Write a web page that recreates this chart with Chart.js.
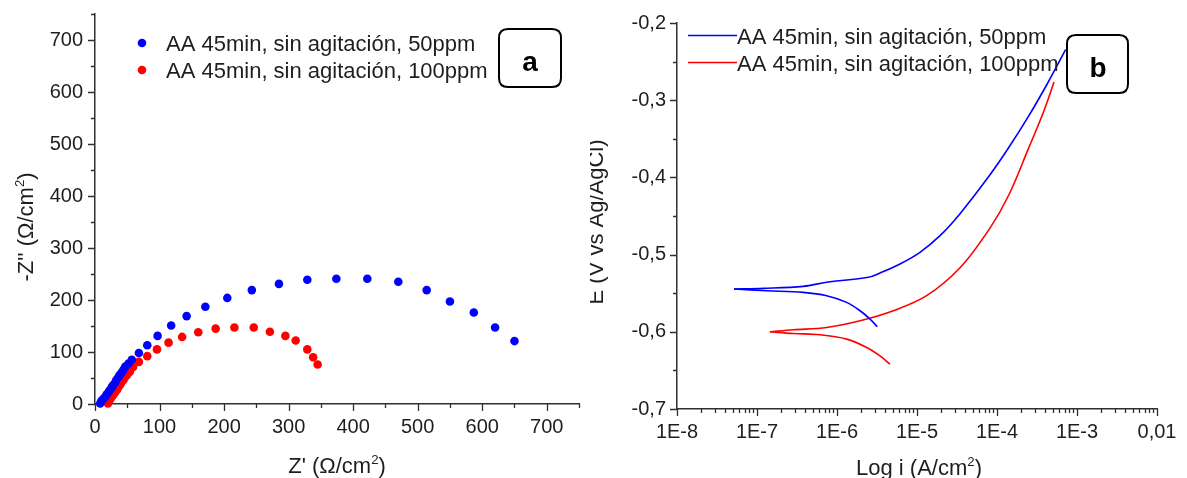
<!DOCTYPE html>
<html><head><meta charset="utf-8">
<script src="https://cdn.jsdelivr.net/npm/chart.js@4.4.1/dist/chart.umd.min.js"></script>
<style>
html,body{margin:0;padding:0;background:#fff;width:1187px;height:478px;overflow:hidden}
#ca{position:absolute;left:0;top:0}
#cb{position:absolute;left:590px;top:0}
</style></head><body>
<canvas id="ca" width="590" height="478"></canvas>
<canvas id="cb" width="597" height="478"></canvas>
<script>
// ---------- data ----------
const seriesLabels = ['AA 45min, sin agitación, 50ppm', 'AA 45min, sin agitación, 100ppm'];
// Panel a : Nyquist (Z', -Z'') in ohm/cm2
const nyqTicks = [0, 100, 200, 300, 400, 500, 600, 700];
const nyq50Re = [8, 10, 13, 16, 18, 21, 23, 26, 28, 31, 33, 36, 38, 41, 44, 47, 52, 57, 68, 81, 97, 118, 142, 171, 205, 243, 285, 329, 374, 422, 470, 514, 550, 587, 620, 650];
const nyq50Im = [1, 6, 10, 14, 18, 23, 27, 32, 36, 41, 46, 51, 55, 60, 66, 72, 78, 85, 98, 113, 131, 151, 169, 187, 204, 219, 231, 239, 241, 241, 235, 219, 197, 176, 147, 121];
const nyq100Re = [20, 23, 25, 28, 31, 34, 36, 39, 41, 44, 46, 49, 51, 54, 59, 68, 81, 96, 114, 135, 160, 187, 216, 246, 271, 295, 311, 329, 338, 345];
const nyq100Im = [1, 8, 12, 17, 22, 27, 32, 37, 42, 46, 51, 55, 59, 62, 71, 81, 92, 105, 118, 129, 138, 145, 147, 147, 139, 131, 122, 105, 90, 76];
// Panel b : polarisation curves, i (A/cm2) and E (V vs Ag/AgCl)
const eTicks = [-0.7, -0.6, -0.5, -0.4, -0.3, -0.2];
const iTicks = [1e-8, 1e-7, 1e-6, 1e-5, 1e-4, 1e-3, 1e-2];
const iTickLabels = ['1E-8', '1E-7', '1E-6', '1E-5', '1E-4', '1E-3', '0,01'];
const pol50CathI = [3.19e-6, 2.59e-6, 1.94e-6, 1.32e-6, 7.43e-7, 3.79e-7, 1.32e-7, 5.16e-8];
const pol50CathE = [-0.5935, -0.5835, -0.5727, -0.5619, -0.5532, -0.5489, -0.5468, -0.5446];
const pol50AnodI = [5.16e-8, 1.2e-7, 3.79e-7, 7.43e-7, 2.46e-6, 3.45e-6, 6.13e-6, 1.09e-5, 1.94e-5, 3.45e-5, 8.13e-5, 1.41e-4, 2.44e-4, 4.24e-4, 7.2e-4];
const pol50AnodE = [-0.5446, -0.5437, -0.5411, -0.5359, -0.5294, -0.5238, -0.5121, -0.497, -0.4755, -0.447, -0.397, -0.361, -0.322, -0.279, -0.2346];
const pol100CathI = [4.6e-6, 3.45e-6, 2.35e-6, 1.32e-6, 6.13e-7, 2.84e-7, 1.45e-7];
const pol100CathE = [-0.642, -0.6312, -0.6203, -0.6095, -0.6039, -0.6022, -0.6];
const pol100AnodI = [1.45e-7, 2.84e-7, 7.43e-7, 1.94e-6, 5.06e-6, 1.32e-5, 3.45e-5, 8.13e-5, 1.41e-4, 2.44e-4, 3.8e-4, 5.16e-4];
const pol100AnodE = [-0.6, -0.5974, -0.5944, -0.5857, -0.5727, -0.5532, -0.517, -0.466, -0.4225, -0.364, -0.3155, -0.2765];

// ---------- helpers ----------
const FONT = "'Liberation Sans', Arial, sans-serif";
const BLUE = '#0000ff', RED = '#ff0000', AXIS = '#303030', TXT = '#1e1e1e';
const pts = (xs, ys) => xs.map((x, i) => ({x: x, y: ys[i]}));
Chart.defaults.font.family = FONT;

function rich(ctx, parts, x, y, size) {
  let w = 0;
  parts.forEach(p => { ctx.font = (p.sup ? size * 0.6 : size) + 'px ' + FONT; w += ctx.measureText(p.t).width; });
  let cx = x - w / 2;
  parts.forEach(p => {
    ctx.font = (p.sup ? size * 0.6 : size) + 'px ' + FONT;
    ctx.fillText(p.t, cx, p.sup ? y - size * 0.42 : y);
    cx += ctx.measureText(p.t).width;
  });
}
function roundBox(ctx, x, y, w, h, r, letter, lx, ly) {
  ctx.save();
  ctx.beginPath();
  ctx.moveTo(x + r, y); ctx.lineTo(x + w - r, y); ctx.quadraticCurveTo(x + w, y, x + w, y + r);
  ctx.lineTo(x + w, y + h - r); ctx.quadraticCurveTo(x + w, y + h, x + w - r, y + h);
  ctx.lineTo(x + r, y + h); ctx.quadraticCurveTo(x, y + h, x, y + h - r);
  ctx.lineTo(x, y + r); ctx.quadraticCurveTo(x, y, x + r, y); ctx.closePath();
  ctx.lineWidth = 2; ctx.strokeStyle = '#000'; ctx.stroke();
  ctx.fillStyle = '#000'; ctx.font = 'bold 28px ' + FONT; ctx.textAlign = 'center'; ctx.textBaseline = 'alphabetic';
  ctx.fillText(letter, lx, ly);
  ctx.restore();
}
function tickMarks(ctx, scale, vals, len, horiz) {
  ctx.beginPath();
  vals.forEach(v => {
    const p = Math.round(scale.getPixelForValue(v)) + 0.5;
    if (horiz) { ctx.moveTo(p, scale.top); ctx.lineTo(p, scale.top + len); }
    else { ctx.moveTo(scale.right, p); ctx.lineTo(scale.right - len, p); }
  });
  ctx.stroke();
}
function range(a, b, s) { const r = []; for (let v = a; v <= b + 1e-9; v += s) r.push(+v.toFixed(6)); return r; }
function fixSize(prop, val) {
  return s => { s[prop] = val; s.paddingTop = 0; s.paddingBottom = 0; s.paddingLeft = 0; s.paddingRight = 0; };
}

const axisCommon = {
  grid: {display: false, drawTicks: false},
  border: {display: true, color: AXIS, width: 1.5},
};

// ---------- panel a ----------
const plugA = {
  id: 'decorA',
  afterDraw(chart) {
    const ctx = chart.ctx, xs = chart.scales.x, ys = chart.scales.y;
    ctx.save();
    ctx.strokeStyle = AXIS; ctx.lineWidth = 1.3;
    tickMarks(ctx, xs, nyqTicks, 7, true);
    tickMarks(ctx, xs, range(50, 750, 100), 4, true);
    tickMarks(ctx, ys, nyqTicks, 7, false);
    tickMarks(ctx, ys, range(50, 750, 100), 4, false);
    // legend
    ctx.textAlign = 'left'; ctx.textBaseline = 'alphabetic';
    const ly = [51, 78];
    chart.data.datasets.forEach((d, i) => {
      ctx.fillStyle = d.backgroundColor;
      ctx.beginPath(); ctx.arc(142, ly[i] - 8, 4.3, 0, Math.PI * 2); ctx.fill();
      ctx.fillStyle = TXT; ctx.font = '22px ' + FONT;
      ctx.fillText(d.label, 166, ly[i]);
    });
    // axis titles
    ctx.fillStyle = TXT; ctx.textAlign = 'left';
    rich(ctx, [{t: "Z' (\u03A9/cm"}, {t: '2', sup: true}, {t: ')'}], 337, 473, 22);
    ctx.save(); ctx.translate(33, 227); ctx.rotate(-Math.PI / 2);
    rich(ctx, [{t: "-Z'' (\u03A9/cm"}, {t: '2', sup: true}, {t: ')'}], 0, 0, 22);
    ctx.restore();
    roundBox(ctx, 499, 29, 62, 58, 9, 'a', 530, 71);
    ctx.restore();
  }
};
new Chart(document.getElementById('ca'), {
  type: 'scatter',
  data: {datasets: [
    {label: seriesLabels[0], data: pts(nyq50Re, nyq50Im), backgroundColor: BLUE, borderColor: BLUE, pointRadius: 4.3, pointBorderWidth: 0, clip: false},
    {label: seriesLabels[1], data: pts(nyq100Re, nyq100Im), backgroundColor: RED, borderColor: RED, pointRadius: 4.3, pointBorderWidth: 0, clip: false}
  ]},
  options: {
    responsive: false, animation: false, devicePixelRatio: 1,
    layout: {padding: {left: 0, top: 14, right: 11, bottom: 0}},
    plugins: {legend: {display: false}, tooltip: {enabled: false}},
    scales: {
      x: Object.assign({}, axisCommon, {type: 'linear', min: 0, max: 750,
        afterBuildTicks: s => { s.ticks = nyqTicks.map(v => ({value: v})); },
        afterFit: fixSize('height', 74),
        ticks: {color: TXT, font: {size: 20}, padding: 11, maxRotation: 0, autoSkip: false}}),
      y: Object.assign({}, axisCommon, {type: 'linear', min: 0, max: 750,
        afterBuildTicks: s => { s.ticks = nyqTicks.map(v => ({value: v})); },
        afterFit: fixSize('width', 95),
        ticks: {color: TXT, font: {size: 20}, padding: 12, autoSkip: false}})
    }
  },
  plugins: [plugA]
});

// ---------- panel b ----------
const plugB = {
  id: 'decorB',
  afterDraw(chart) {
    const ctx = chart.ctx, xs = chart.scales.x, ys = chart.scales.y;
    ctx.save();
    ctx.strokeStyle = AXIS; ctx.lineWidth = 1.3;
    tickMarks(ctx, xs, iTicks, 7, true);
    const minor = [];
    for (let d = -8; d < -2; d++) for (let m = 2; m <= 9; m++) minor.push(m * Math.pow(10, d));
    tickMarks(ctx, xs, minor, 4, true);
    tickMarks(ctx, ys, eTicks, 7, false);
    tickMarks(ctx, ys, [-0.65, -0.55, -0.45, -0.35, -0.25], 4, false);
    // legend
    ctx.textAlign = 'left'; ctx.textBaseline = 'alphabetic';
    const ly = [44, 71];
    [0, 2].forEach((k, i) => {
      const d = chart.data.datasets[k];
      ctx.strokeStyle = d.borderColor; ctx.lineWidth = 1.6;
      ctx.beginPath(); ctx.moveTo(98, ly[i] - 8.5); ctx.lineTo(147, ly[i] - 8.5); ctx.stroke();
      ctx.fillStyle = TXT; ctx.font = '22px ' + FONT;
      ctx.fillText(seriesLabels[i], 147, ly[i]);
    });
    ctx.fillStyle = TXT; ctx.textAlign = 'left';
    rich(ctx, [{t: 'Log i (A/cm'}, {t: '2', sup: true}, {t: ')'}], 329, 475, 22);
    ctx.save(); ctx.translate(13, 222); ctx.rotate(-Math.PI / 2);
    rich(ctx, [{t: 'E (V vs Ag/AgCl)'}], 0, 0, 22);
    ctx.restore();
    roundBox(ctx, 477, 35, 61, 58, 9, 'b', 508, 77);
    ctx.restore();
  }
};
const lineDs = (lbl, xs, ys, c) => ({label: lbl, data: pts(xs, ys), showLine: true, borderColor: c, backgroundColor: c, borderWidth: 1.6, pointRadius: 0, tension: 0.35, clip: false});
new Chart(document.getElementById('cb'), {
  type: 'scatter',
  data: {datasets: [
    lineDs(seriesLabels[0], pol50AnodI, pol50AnodE, BLUE),
    lineDs(seriesLabels[0], pol50CathI, pol50CathE, BLUE),
    lineDs(seriesLabels[1], pol100AnodI, pol100AnodE, RED),
    lineDs(seriesLabels[1], pol100CathI, pol100CathE, RED)
  ]},
  options: {
    responsive: false, animation: false, devicePixelRatio: 1,
    layout: {padding: {left: 0, top: 23, right: 30, bottom: 0}},
    plugins: {legend: {display: false}, tooltip: {enabled: false}},
    scales: {
      x: Object.assign({}, axisCommon, {type: 'logarithmic', min: 1e-8, max: 1e-2,
        afterBuildTicks: s => { s.ticks = iTicks.map(v => ({value: v})); },
        afterFit: fixSize('height', 69),
        ticks: {color: TXT, font: {size: 20}, padding: 11, maxRotation: 0, autoSkip: false,
          callback: (v, i) => iTickLabels[i]}}),
      y: Object.assign({}, axisCommon, {type: 'linear', min: -0.7, max: -0.2,
        afterBuildTicks: s => { s.ticks = eTicks.map(v => ({value: v})); },
        afterFit: fixSize('width', 87),
        ticks: {color: TXT, font: {size: 20}, padding: 11, autoSkip: false,
          callback: v => v.toFixed(1).replace('.', ',')}})
    }
  },
  plugins: [plugB]
});
</script>
</body></html>
